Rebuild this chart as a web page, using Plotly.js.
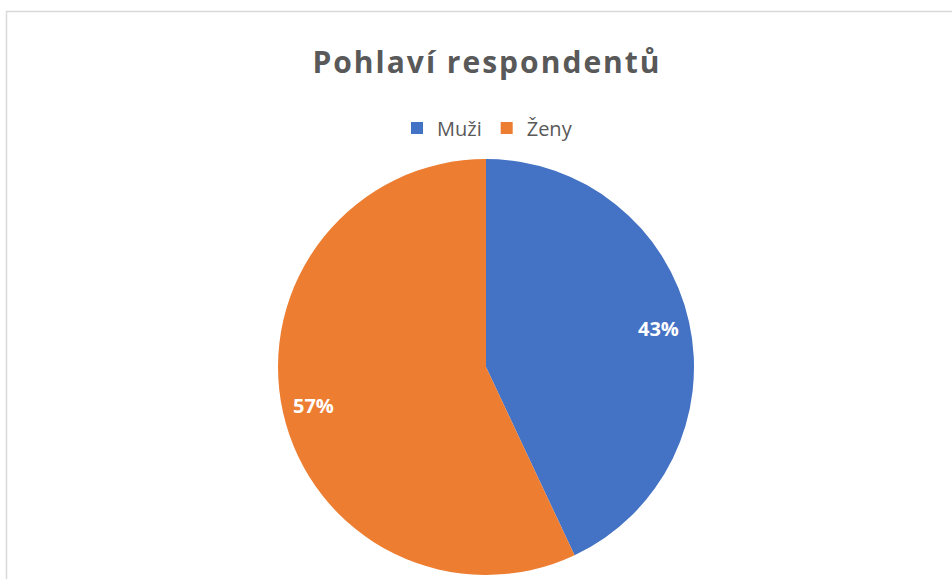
<!DOCTYPE html>
<html>
<head>
<meta charset="utf-8">
<script src="https://cdn.plot.ly/plotly-3.0.1.min.js"></script>
<style>
html,body{margin:0;padding:0;background:#fff;}
#chart{width:952px;height:579px;}
.gtitle{letter-spacing:2px;}
</style>
</head>
<body>
<div id="chart"></div>
<script>
var categories = ["Muži", "Ženy"];
var values = [43, 57];
var colors = ["#4472C4", "#ED7D31"];
var chartTitle = "Pohlaví respondentů";

var W = 952, H = 579;
var domX = [278/W, 694/W], domY = [4/H, 420/H];

var trace = {
  type: "pie",
  labels: categories,
  values: values,
  sort: false,
  direction: "clockwise",
  rotation: 0,
  marker: {colors: colors, line: {width: 0}},
  textinfo: "none",
  hoverinfo: "label+percent",
  domain: {x: domX, y: domY}
};

// percentage labels placed on each slice's bisector (Excel-style, near the rim)
var total = values.reduce(function(a, b){ return a + b; }, 0);
var cxPx = (domX[0] + domX[1]) / 2 * W;
var cyPx = (domY[0] + domY[1]) / 2 * H;
var rPx = Math.min((domX[1] - domX[0]) * W, (domY[1] - domY[0]) * H) / 2;
var annotations = [];
var cum = 0;
values.forEach(function(v){
  var mid = (cum + v / 2) / total * 2 * Math.PI;
  cum += v;
  var rr = rPx * 0.85;
  annotations.push({
    xref: "paper", yref: "paper",
    x: (cxPx + rr * Math.sin(mid)) / W,
    y: (cyPx + rr * Math.cos(mid)) / H,
    xanchor: "center", yanchor: "middle",
    showarrow: false,
    text: "<b>" + Math.round(v / total * 100) + "%</b>",
    font: {family: "Open Sans, sans-serif", size: 20, color: "#ffffff"}
  });
});

var layout = {
  width: W, height: H,
  margin: {l: 0, r: 0, t: 0, b: 0},
  paper_bgcolor: "#ffffff",
  title: {
    text: "<b>" + chartTitle + "</b>",
    font: {family: "Open Sans, sans-serif", size: 30, color: "#595959"},
    x: 487/W, xanchor: "center", xref: "paper",
    y: 1 - 62/H, yanchor: "middle", yref: "paper"
  },
  showlegend: true,
  legend: {
    orientation: "h",
    x: 487.5/W, xanchor: "center",
    y: 1 - 128/H, yanchor: "middle",
    font: {family: "Open Sans, sans-serif", size: 20, color: "#595959"},
    itemwidth: 30,
    traceorder: "normal"
  },
  annotations: annotations,
  shapes: [{
    type: "rect", xref: "paper", yref: "paper",
    x0: 6.5/W, x1: 1.2, y0: -0.2, y1: 1 - 11.5/H,
    line: {color: "#d9d9d9", width: 1.5}, layer: "below"
  }]
};

Plotly.newPlot("chart", [trace], layout, {staticPlot: true, displayModeBar: false});
</script>
</body>
</html>
